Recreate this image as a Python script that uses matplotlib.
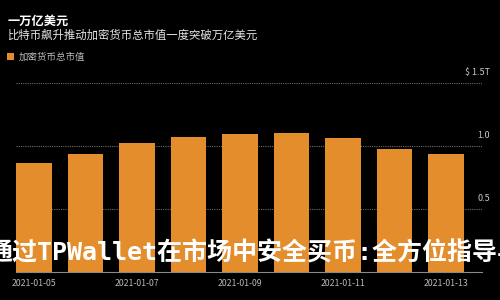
import matplotlib
matplotlib.use('Agg')
import matplotlib.pyplot as plt
import matplotlib.transforms as mtransforms

# ---- data ----
dates = ['2021-01-05', '2021-01-06', '2021-01-07', '2021-01-08', '2021-01-09',
         '2021-01-10', '2021-01-11', '2021-01-12', '2021-01-13']
values = [0.865, 0.94, 1.02, 1.07, 1.095, 1.10, 1.06, 0.98, 0.94]
ytick_values = [0.5, 1.0, 1.5]
ytick_labels = ['0.5', '1.0', '$ 1.5T']
title = '一万亿美元'
subtitle = '比特币飙升推动加密货币总市值一度突破万亿美元'
legend_label = '加密货币总市值'
overlay = '通过TPWallet在市场中安全买币:全方位指导与'

plt.rcParams['font.family'] = ['Noto Sans CJK SC', 'DejaVu Sans']

BAR = '#E38D2C'
fig = plt.figure(figsize=(5, 3), dpi=100, facecolor='black')
ax = fig.add_axes([0.032, 0.0933, 0.932, 0.63])
ax.set_facecolor('black')

x = list(range(len(values)))
ax.bar(x, values, width=0.69, color=BAR, zorder=2, label=legend_label)
ax.set_xlim(-0.345, 8.70)
ax.set_ylim(0, 1.5)

ax.set_xticks(x[::2], dates[::2])
ax.tick_params(axis='x', length=0, pad=5, labelsize=6.3, labelcolor='#b8b8b8')

ax.yaxis.tick_right()
ax.set_yticks(ytick_values, ytick_labels)
ax.tick_params(axis='y', length=0, pad=5.8, labelsize=6.5, labelcolor='#c8c8c8')
off = mtransforms.ScaledTranslation(0, 4 / 72, fig.dpi_scale_trans)
for lab in ax.get_yticklabels():
    lab.set_ha('right')
    lab.set_va('bottom')
    lab.set_transform(lab.get_transform() + off)

ax.set_axisbelow(True)
ax.grid(axis='y', color='#6a6a6a', linestyle=(0, (1, 1)), linewidth=0.8)
for s in ['left', 'right', 'top']:
    ax.spines[s].set_visible(False)
ax.spines['bottom'].set_color('#8a8a8a')
ax.spines['bottom'].set_linewidth(0.8)

fig.text(0.016, 1 - 21 / 300, title, color='white', fontsize=8.8,
         fontweight='bold', va='center', ha='left')
fig.text(0.016, 1 - 35 / 300, subtitle, color='#e6e6e6', fontsize=8.2,
         va='center', ha='left')

leg = ax.legend(loc='upper left', bbox_to_anchor=(0.014, 1 - 52 / 300),
                bbox_transform=fig.transFigure, frameon=False, fontsize=6.8,
                handlelength=0.75, handleheight=0.75, handletextpad=0.45,
                borderpad=0, borderaxespad=0, labelcolor='#bbbbbb')

fig.text(-0.026, 1 - 253 / 300, overlay, color='white', fontsize=18,
         fontweight='bold', family=['DejaVu Sans Mono', 'Noto Sans CJK SC'],
         va='center', ha='left', zorder=10)

fig.savefig('out.png', dpi=100, facecolor='black')
